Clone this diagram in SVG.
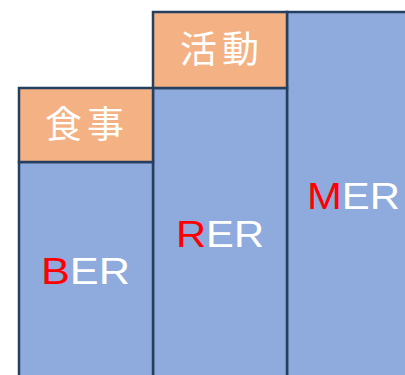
<svg xmlns="http://www.w3.org/2000/svg" width="405" height="375" viewBox="0 0 405 375">
<style>
.o{fill:#F4B183;stroke:#243F60;stroke-width:2.5}
.b{fill:#8FAADC;stroke:#243F60;stroke-width:2.5}
.j{font-family:"Noto Sans CJK JP","Noto Sans CJK SC",sans-serif;font-size:37px;fill:#fff;text-anchor:middle;letter-spacing:5px}
.e{font-family:"Liberation Sans",Arial,sans-serif;font-size:36px;fill:#fff}
.r{fill:#FF0000}
</style>
<rect width="405" height="375" fill="#fff"/>
<g id="col3">
<rect class="b" x="287" y="12" width="130" height="375"/>
<text class="e" x="307" y="209" textLength="93" lengthAdjust="spacingAndGlyphs"><tspan class="r">M</tspan>ER</text>
</g>
<g id="col2">
<rect class="b" x="153" y="88" width="134" height="300"/>
<text class="e" x="176" y="247" textLength="88" lengthAdjust="spacingAndGlyphs"><tspan class="r">R</tspan>ER</text>
</g>
<g id="katsudo">
<rect class="o" x="153" y="12" width="134" height="76"/>
<text class="j" x="222" y="63">活動</text>
</g>
<g id="col1">
<rect class="b" x="19" y="162" width="134" height="226"/>
<text class="e" x="41" y="284" textLength="89" lengthAdjust="spacingAndGlyphs"><tspan class="r">B</tspan>ER</text>
</g>
<g id="shokuji">
<rect class="o" x="19" y="88" width="134" height="74"/>
<text class="j" x="87" y="138">食事</text>
</g>
</svg>
